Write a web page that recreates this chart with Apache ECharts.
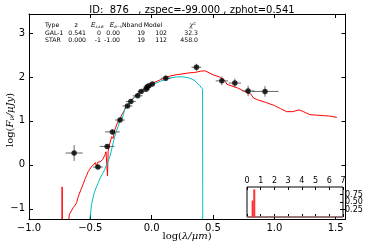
<!DOCTYPE html>
<html><head><meta charset="utf-8">
<script src="https://cdn.jsdelivr.net/npm/echarts@6/dist/echarts.min.js"></script>
<style>html,body{margin:0;padding:0;background:#fff}#c{width:368px;height:245px}</style>
</head><body><div id="c"></div>
<script>
const titleText = 'ID:  876   , zspec=-99.000 , zphot=0.541';
const xTicks = [-1.0, -0.5, 0.0, 0.5, 1.0, 1.5];
const yTicks = [-1, 0, 1, 2, 3];
const insetXTicks = [0, 1, 2, 3, 4, 5, 6, 7];
const insetYTicksA = [0.25, 0.75];
const insetYTicksB = [0.5];

// observed photometry
const photX = [-0.632, -0.438, -0.363, -0.32, -0.258, -0.197, -0.17, -0.114, -0.086, -0.045, -0.037, -0.023, 0.005, 0.115, 0.365, 0.572, 0.678, 0.786, 0.924];
const photY = [0.27, -0.05, 0.42, 0.75, 1.02, 1.34, 1.44, 1.57, 1.67, 1.72, 1.77, 1.80, 1.84, 1.97, 2.22, 1.91, 1.86, 1.68, 1.67];
const photXErr = [0.07, 0.04, 0.06, 0.06, 0.04, 0.04, 0.04, 0.04, 0.03, 0.03, 0.03, 0.03, 0.02, 0.04, 0.04, 0.05, 0.05, 0.05, 0.11];
const photYErr = [0.18, 0.04, 0.05, 0.05, 0.04, 0.04, 0.04, 0.04, 0.03, 0.03, 0.03, 0.03, 0.03, 0.06, 0.08, 0.10, 0.10, 0.12, 0.12];

// galaxy template (red): narrow spike, UV rise, main curve
const galSpikeX = [-0.733, -0.73, -0.727];
const galSpikeY = [-3, -0.5, -3];
const galUVX = [-0.68, -0.67, -0.655, -0.64, -0.625, -0.612, -0.60, -0.59, -0.575, -0.557, -0.545, -0.53, -0.517, -0.505, -0.49, -0.476];
const galUVY = [-1.3, -1.12, -1.05, -0.97, -0.92, -0.86, -0.74, -0.66, -0.55, -0.43, -0.33, -0.24, -0.15, -0.1, -0.04, 0.0];
const galX = [-0.476, -0.46, -0.45, -0.44, -0.42, -0.40, -0.38, -0.372, -0.367, -0.36, -0.355, -0.345, -0.326, -0.315, -0.30, -0.28, -0.258, -0.24, -0.22, -0.20, -0.18, -0.15, -0.12, -0.09, -0.06, -0.03, 0.0, 0.05, 0.10, 0.15, 0.20, 0.255, 0.30, 0.35, 0.40, 0.434, 0.50, 0.56, 0.60, 0.614, 0.70, 0.75, 0.808, 0.83, 0.863, 0.93, 1.0, 1.05, 1.10, 1.15, 1.20, 1.23, 1.29, 1.35, 1.40, 1.45, 1.51];
const galY = [0.0, 0.05, -0.03, 0.06, 0.07, 0.12, 0.23, 0.3, 0.04, -0.25, 0.3, 0.45, 0.64, 0.6, 0.8, 0.95, 1.06, 1.15, 1.25, 1.35, 1.42, 1.52, 1.6, 1.68, 1.74, 1.8, 1.85, 1.91, 1.97, 2.02, 2.05, 2.07, 2.09, 2.1, 2.13, 2.14, 2.05, 1.99, 1.9, 1.83, 1.75, 1.68, 1.61, 1.52, 1.48, 1.42, 1.35, 1.28, 1.21, 1.21, 1.25, 1.22, 1.14, 1.13, 1.12, 1.11, 1.08];

// star template (cyan)
const starX = [-0.507, -0.49, -0.47, -0.45, -0.438, -0.42, -0.40, -0.383, -0.36, -0.34, -0.327, -0.31, -0.29, -0.27, -0.26, -0.25, -0.24, -0.23, -0.217, -0.20, -0.17, -0.134, -0.10, -0.06, 0.005, 0.07, 0.144, 0.20, 0.254, 0.30, 0.337, 0.365, 0.393, 0.415, 0.417];
const starY = [-1.3, -0.9, -0.65, -0.5, -0.42, -0.3, -0.2, -0.11, 0.05, 0.2, 0.34, 0.55, 0.75, 0.9, 1.0, 1.08, 1.05, 1.15, 1.3, 1.36, 1.45, 1.55, 1.63, 1.72, 1.82, 1.9, 1.97, 2.0, 2.0, 1.98, 1.94, 1.88, 1.8, 1.72, -3];

// inset: photo-z probability
const pzX = [0.41, 0.53];
const pzY = [0.55, 0.92];
const pzLineX = [0, 7];
const pzLineY = [0.01, 0.01];

// fit table
const tableHeader = ['Type', 'z', 'E_LAW', 'E_B-V', 'Nband', 'Model', 'χ²'];
const galRow = ['GAL-1', '0.541', '0', '0.00', '19', '102', '32.3'];
const starRow = ['STAR', '0.000', '-1', '-1.00', '19', '112', '458.0'];

const zip = (a, b) => a.map((v, i) => [v, b[i]]);
const minus = s => String(s).replace('-', '\u2212');

const chart = echarts.init(document.getElementById('c'));
const FONT = 'DejaVu Sans';

const colRight = [null, 86, 101, 120, 145, 167, 198];
const headCenter = [null, 76, 97.5, 116, 132, 153, 192.5];
const rowsY = [25.5, 33.3, 40.5];
const tfs = 6.2;
const graphics = [];
tableHeader.forEach((h, i) => {
  let txt = h;
  if (h === 'E_LAW') { txt = '{e|E}{s|LAW}'; }
  if (h === 'E_B-V') { txt = '{e|E}{s|B\u2212V}'; }
  if (h === 'χ²') { txt = '{e|χ}{p|2}'; }
  graphics.push({
    type: 'text', x: i === 0 ? 45 : headCenter[i], y: rowsY[0],
    style: {
      text: txt, font: tfs + 'px ' + FONT, fill: '#000', textAlign: i === 0 ? 'left' : 'center', textVerticalAlign: 'middle',
      rich: { e: { fontFamily: 'DejaVu Serif', fontStyle: 'italic', fontSize: 6.5 }, s: { fontFamily: 'DejaVu Serif', fontStyle: 'italic', fontSize: 3.6, padding: [3, 0, 0, 0] }, p: { fontFamily: 'DejaVu Serif', fontSize: 4, padding: [0, 0, 4, 0] } }
    }, z: 50
  });
});
[galRow, starRow].forEach((row, r) => {
  row.forEach((v, i) => {
    graphics.push({
      type: 'text', x: i === 0 ? 45 : colRight[i], y: rowsY[r + 1],
      style: { text: v, font: tfs + 'px ' + FONT, fill: '#000', textAlign: i === 0 ? 'left' : 'right', textVerticalAlign: 'middle' }, z: 50
    });
  });
});
graphics.push({
  type: 'text', x: 187, y: 236,
  style: { text: '{n|log(}{i|λ/μm}{n|)}', textAlign: 'center', textVerticalAlign: 'middle',
    rich: { n: { fontFamily: 'DejaVu Serif', fontSize: 10, fill: '#000' }, i: { fontFamily: 'DejaVu Serif', fontStyle: 'italic', fontSize: 10, fill: '#000' } } }, z: 50
});
graphics.push({
  type: 'text', x: 10, y: 120, rotation: Math.PI / 2,
  style: { text: '{n|log(}{i|F}{s|ν}{i|/μJy}{n|)}', textAlign: 'center', textVerticalAlign: 'middle',
    rich: { n: { fontFamily: 'DejaVu Serif', fontSize: 10, fill: '#000' }, i: { fontFamily: 'DejaVu Serif', fontStyle: 'italic', fontSize: 10, fill: '#000' }, s: { fontFamily: 'DejaVu Serif', fontStyle: 'italic', fontSize: 7, fill: '#000', padding: [4, 0, 0, 0] } } }, z: 50
});

const photData = photX.map((x, i) => [x, photY[i], photXErr[i], photYErr[i]]);
const mainX = { min: -1.0, max: 1.58 };
const mainY = { min: -1.23, max: 3.43 };
const aLine = { show: true, onZero: false, lineStyle: { color: '#000', width: 1 } };
const noLine = { show: false, onZero: false };
const insetYLabel = vals => ({ customValues: vals, hideOverlap: false, showMinLabel: true, showMaxLabel: true, margin: 2,
  formatter: v => v.toFixed(2), fontFamily: FONT, fontSize: 8, lineHeight: 7, color: '#000' });

// polyline through the library's coordinate mapping
const polySeries = (xs, ys, color, z) => ({
  type: 'custom', xAxisIndex: 0, yAxisIndex: 0, data: zip(xs, ys), z: z, clip: true,
  renderItem: (params, api) => {
    if (params.dataIndexInside !== 0) return null;
    const pts = xs.map((x, i) => api.coord([x, ys[i]]));
    return { type: 'polyline', shape: { points: pts }, style: { stroke: color, lineWidth: 1, fill: null } };
  }
});

chart.setOption({
  animation: false,
  title: { text: titleText, left: 187, top: 0, textAlign: 'center', textStyle: { fontFamily: FONT, fontSize: 10, fontWeight: 'normal', color: '#000' } },
  graphic: graphics,
  grid: [
    { left: 29, top: 14, right: 22.5, bottom: 26, show: false },
    { left: 247, top: 187, width: 96, height: 30, show: true, borderColor: '#000', borderWidth: 1, backgroundColor: '#fff', z: 20 }
  ],
  xAxis: [
    { type: 'value', gridIndex: 0, min: mainX.min, max: mainX.max, splitLine: { show: false }, axisLine: aLine,
      axisTick: { inside: true, length: 4, customValues: xTicks, lineStyle: { color: '#000' } },
      axisLabel: { customValues: xTicks, margin: 4, formatter: v => minus(v.toFixed(1)), fontFamily: FONT, fontSize: 10, color: '#000' } },
    { type: 'value', gridIndex: 0, position: 'top', min: mainX.min, max: mainX.max, splitLine: { show: false }, axisLine: aLine,
      axisTick: { inside: true, length: 4, customValues: xTicks, lineStyle: { color: '#000' } }, axisLabel: { show: false } },
    { type: 'value', gridIndex: 1, position: 'top', min: 0, max: 7, splitLine: { show: false }, axisLine: noLine,
      axisTick: { inside: true, length: 3, customValues: insetXTicks, lineStyle: { color: '#000' } },
      axisLabel: { customValues: insetXTicks, margin: 2, fontFamily: FONT, fontSize: 8, color: '#000', showMinLabel: true, showMaxLabel: true }, z: 21 },
    { type: 'value', gridIndex: 1, position: 'bottom', min: 0, max: 7, splitLine: { show: false }, axisLine: noLine,
      axisTick: { inside: true, length: 3, customValues: insetXTicks, lineStyle: { color: '#000' } }, axisLabel: { show: false }, z: 21 }
  ],
  yAxis: [
    { type: 'value', gridIndex: 0, min: mainY.min, max: mainY.max, splitLine: { show: false }, axisLine: aLine,
      axisTick: { inside: true, length: 4, customValues: yTicks, lineStyle: { color: '#000' } },
      axisLabel: { customValues: yTicks, margin: 4, formatter: v => minus(String(v)), fontFamily: FONT, fontSize: 10, color: '#000' } },
    { type: 'value', gridIndex: 0, position: 'right', min: mainY.min, max: mainY.max, splitLine: { show: false }, axisLine: aLine,
      axisTick: { inside: true, length: 4, customValues: yTicks, lineStyle: { color: '#000' } }, axisLabel: { show: false } },
    { type: 'value', gridIndex: 1, position: 'right', min: 0, max: 1, splitLine: { show: false }, axisLine: noLine,
      axisTick: { inside: true, length: 3, customValues: insetYTicksA, lineStyle: { color: '#000' } },
      axisLabel: insetYLabel(insetYTicksA), z: 21 },
    { type: 'value', gridIndex: 1, position: 'right', offset: 0, min: 0, max: 1, splitLine: { show: false }, axisLine: noLine,
      axisTick: { inside: true, length: 3, customValues: insetYTicksB, lineStyle: { color: '#000' } },
      axisLabel: insetYLabel(insetYTicksB), z: 21 }
  ],
  series: [
    polySeries(galSpikeX, galSpikeY, '#ff0000', 3),
    polySeries(galUVX, galUVY, '#ff0000', 3),
    polySeries(galX, galY, '#ff0000', 3),
    polySeries(starX, starY, '#00bfbf', 4),
    { type: 'custom', xAxisIndex: 0, yAxisIndex: 0, data: photData, z: 5,
      renderItem: (params, api) => {
        const x = api.value(0), y = api.value(1), xe = api.value(2), ye = api.value(3);
        const a = api.coord([x - xe, y]), b = api.coord([x + xe, y]), c = api.coord([x, y - ye]), d = api.coord([x, y + ye]);
        const st = { stroke: '#666', lineWidth: 1 };
        return { type: 'group', children: [
          { type: 'line', shape: { x1: a[0], y1: a[1], x2: b[0], y2: b[1] }, style: st },
          { type: 'line', shape: { x1: c[0], y1: c[1], x2: d[0], y2: d[1] }, style: st }
        ] };
      } },
    { type: 'scatter', xAxisIndex: 0, yAxisIndex: 0, data: zip(photX, photY), symbol: 'circle', symbolSize: 5.5,
      itemStyle: { color: '#000' }, z: 6 },
    { type: 'line', xAxisIndex: 2, yAxisIndex: 2, data: zip(pzLineX, pzLineY), showSymbol: false, symbol: 'none',
      lineStyle: { color: '#b07070', width: 1 }, z: 22 },
    { type: 'custom', xAxisIndex: 2, yAxisIndex: 2, data: zip(pzX, pzY), z: 23, clip: true,
      renderItem: (params, api) => {
        const x = api.value(0), y = api.value(1);
        const p0 = api.coord([x, 0]), p1 = api.coord([x, y]);
        return { type: 'rect', shape: { x: p0[0] - 1, y: p1[1], width: 2, height: p0[1] - p1[1] }, style: { fill: '#ff3030' } };
      } }
  ]
});
</script></body></html>
